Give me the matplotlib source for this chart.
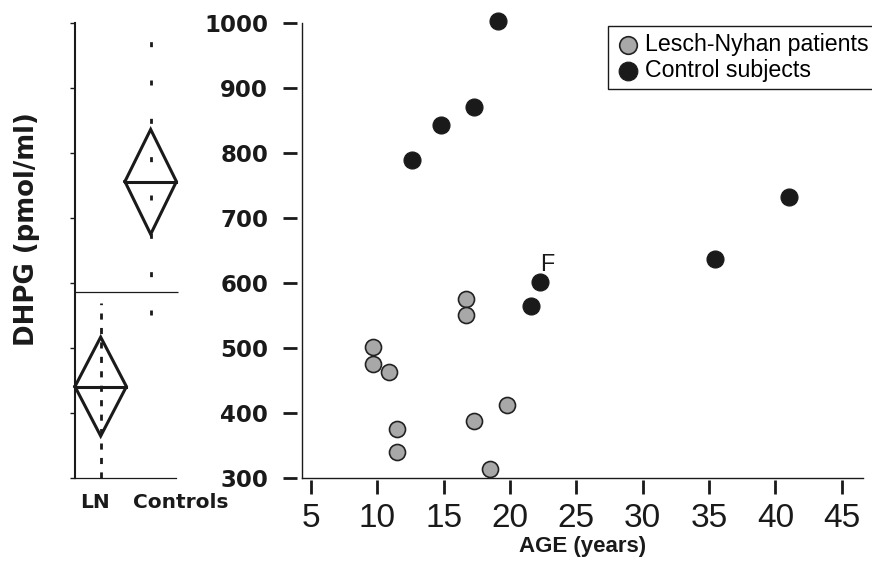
import numpy as np
import matplotlib.pyplot as plt

# scatter data (age in years, DHPG in pmol/ml)
ln_age = [9.7, 9.7, 10.9, 11.5, 11.5, 16.7, 16.7, 17.3, 18.5, 19.8]
ln_dhpg = [501, 476, 464, 376, 340, 576, 551, 388, 315, 413]
ctrl_age = [12.6, 14.8, 17.3, 19.1, 21.6, 22.25, 35.45, 41.0]
ctrl_dhpg = [789, 843, 871, 1002, 564, 601, 637, 732]

# means diamonds (left panel)
groups = ["LN", "Controls"]
group_mean = [441, 756]
group_upper = [517, 836]
group_lower = [365, 675]
range_top = [569, 989]
range_bottom = [300, 551]
grand_mean = 586

y_ticks = [300, 400, 500, 600, 700, 800, 900, 1000]
x_ticks = [5, 10, 15, 20, 25, 30, 35, 40, 45]

ink = "#1a1a1a"
bold_font = "DejaVu Sans"
plain_font = "Liberation Sans"

fig = plt.figure(figsize=(8.72, 5.62), dpi=100)
ax_l = fig.add_axes([0.0860, 0.1489, 0.1158, 0.8107])
ax_r = fig.add_axes([0.3463, 0.1489, 0.6433, 0.8107])

# ---- left panel: means diamonds
hw = 0.515
for i, g in enumerate(groups):
    xs = [i - hw, i, i + hw, i, i - hw]
    ys = [group_mean[i], group_upper[i], group_mean[i], group_lower[i], group_mean[i]]
    ax_l.plot(xs, ys, color=ink, lw=2.2, solid_joinstyle="miter", clip_on=False)
    ax_l.plot([i - hw, i + hw], [group_mean[i], group_mean[i]], color=ink, lw=2.2, clip_on=False)

ax_l.plot([0, 0], [range_bottom[0], range_top[0]], color=ink, lw=2,
          linestyle=(0, (2.2, 3.0)), clip_on=False)
ax_l.plot([1, 1], [range_bottom[1], range_top[1]], color=ink, lw=2,
          linestyle=(0, (1.8, 12.0)), clip_on=False)
ax_l.hlines(grand_mean, -0.514, 1.555, color=ink, lw=0.9, clip_on=False)

ax_l.set_xlim(-0.514, 1.506)
ax_l.set_ylim(300, 1000)
ax_l.set_yticks(y_ticks)
ax_l.set_yticklabels([])
ax_l.set_xticks([])
ax_l.tick_params(axis="y", direction="out", length=3.5, width=1, color=ink)
ax_l.spines["top"].set_visible(False)
ax_l.spines["right"].set_visible(False)
ax_l.spines["left"].set_linewidth(1.5)
ax_l.spines["bottom"].set_linewidth(0.9)
for sp in ax_l.spines.values():
    sp.set_color(ink)

label_x = [-0.11, 1.6]
for i, g in enumerate(groups):
    ax_l.text(label_x[i], -0.052, g, transform=ax_l.get_xaxis_transform(),
              ha="center", va="center", fontsize=14.5, fontweight="bold",
              family=bold_font, color=ink)

fig.text(27 / 872, 1 - 229 / 562, "DHPG (pmol/ml)", rotation=90, ha="center", va="center",
         fontsize=18.7, fontweight="bold", family=bold_font, color=ink)

# ---- right panel: scatter
# ticks stand a little away from the axis lines (set before tick labels, it resets them)
ax_r.spines["left"].set_position(("outward", 3.6))
ax_r.spines["bottom"].set_position(("outward", 1.2))
for sp in ax_r.spines.values():
    sp.set_visible(False)
ax_r.plot([0, 0], [0, 1], transform=ax_r.transAxes, color=ink, lw=1.0, clip_on=False)
ax_r.plot([0, 1], [0, 0], transform=ax_r.transAxes, color=ink, lw=1.0, clip_on=False)

ax_r.scatter(ln_age, ln_dhpg, s=133, facecolor="#a8a8a8", edgecolor="#222222",
             linewidth=1.2, zorder=3, clip_on=False, label="Lesch-Nyhan patients")
ax_r.scatter(ctrl_age, ctrl_dhpg, s=150, facecolor=ink, edgecolor=ink,
             linewidth=0.8, zorder=3, clip_on=False, label="Control subjects")
ax_r.annotate("F", xy=(ctrl_age[5], ctrl_dhpg[5]), xytext=(5, 13),
              textcoords="offset points", ha="center", va="center",
              fontsize=16.8, family=plain_font, color=ink)

ax_r.set_xlim(4.32, 46.6)
ax_r.set_ylim(300, 1000)
ax_r.set_xticks(x_ticks)
ax_r.set_yticks(y_ticks)
ax_r.set_xticklabels([str(v) for v in x_ticks], fontsize=24, family=plain_font, color=ink)
ax_r.set_yticklabels([str(v) for v in y_ticks], fontsize=16.5, fontweight="bold",
                     family=bold_font, color=ink)
ax_r.tick_params(axis="y", direction="out", length=10, width=2, pad=10.8, color=ink)
ax_r.tick_params(axis="x", direction="out", length=10, width=2, pad=6.5, color=ink)

ax_r.set_xlabel("AGE (years)", fontsize=16, fontweight="bold", family=plain_font,
                color=ink, labelpad=1.5)

leg = ax_r.legend(loc="upper left", bbox_to_anchor=(608 / 872, 1 - 26 / 562),
                  bbox_transform=fig.transFigure, frameon=True, fancybox=False,
                  framealpha=1, edgecolor=ink, borderpad=0.3, labelspacing=0.13,
                  handlelength=1.1, handletextpad=0.2, borderaxespad=0,
                  markerscale=1.1, prop={"family": plain_font, "size": 16.7})
leg.get_frame().set_linewidth(1.0)

fig.savefig("out.png", dpi=100)
